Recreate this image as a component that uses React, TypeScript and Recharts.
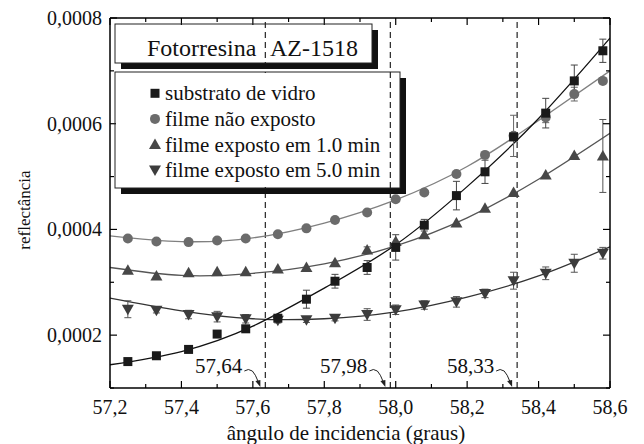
import { ComposedChart, Line, Scatter, XAxis, YAxis, ReferenceLine, ErrorBar } from 'recharts';

// measured angles (graus)
const angles = [57.25, 57.33, 57.42, 57.5, 57.58, 57.67, 57.75, 57.83, 57.92, 58.0, 58.08, 58.17, 58.25, 58.33, 58.42, 58.5, 58.58];

// reflectance per sample
const vidro = [0.000150, 0.000161, 0.000173, 0.000202, 0.000212, 0.000232, 0.000268, 0.000302, 0.000328, 0.000366, 0.000408, 0.000464, 0.000509, 0.000575, 0.000620, 0.000681, 0.000738];
const naoExposto = [0.000383, 0.000377, 0.000376, 0.000379, 0.000383, 0.000391, 0.000402, 0.000418, 0.000432, 0.000457, 0.000470, 0.000505, 0.000541, 0.000577, 0.000612, 0.000656, 0.000681];
const exposto1 = [0.000323, 0.000312, 0.000318, 0.000320, 0.000320, 0.000325, 0.000328, 0.000337, 0.000361, 0.000377, 0.000390, 0.000412, 0.000440, 0.000470, 0.000503, 0.000540, 0.000539];
const exposto5 = [0.000249, 0.000247, 0.000239, 0.000235, 0.000231, 0.000228, 0.000229, 0.000232, 0.000239, 0.000248, 0.000257, 0.000263, 0.000279, 0.000303, 0.000317, 0.000336, 0.000355];

// error bars (0 = none drawn)
const vidroErr = [0, 0, 0, 0, 0, 0, 0.000017, 0.000013, 0.000013, 0.000024, 0.000011, 0.000027, 0.000022, 0, 0.000028, 0.000030, 0.000022];
const naoErr = [0, 0, 0, 0, 0, 0, 0, 0, 0, 0, 0, 0, 0, 0.000039, 0.000010, 0.000013, 0];
const exp1Err = [0, 0, 0, 0, 0, 0, 0, 0, 0.000006, 0, 0, 0, 0, 0, 0, 0, 0.000069];
const exp5Err = [0.000016, 0.000005, 0.000008, 0.000010, 0.000008, 0.000005, 0.000005, 0.000005, 0.000011, 0.000009, 0.000008, 0.000010, 0.000008, 0.000016, 0.000012, 0.000017, 0.000011];

// fitted curves
const fitAngles = [57.2, 57.4, 57.6, 57.8, 58.0, 58.2, 58.4, 58.6];
const vidroFit = [0.000144, 0.000169, 0.000217, 0.000289, 0.000371, 0.000481, 0.000610, 0.000762];
const naoFit = [0.000388, 0.000377, 0.000384, 0.000412, 0.000456, 0.000519, 0.000606, 0.000700];
const exp1Fit = [0.000328, 0.000313, 0.000317, 0.000335, 0.000369, 0.000422, 0.000495, 0.000582];
const exp5Fit = [0.000270, 0.000246, 0.000231, 0.000231, 0.000244, 0.000272, 0.000312, 0.000367];

const xTicks = [57.2, 57.3, 57.4, 57.5, 57.6, 57.7, 57.8, 57.9, 58.0, 58.1, 58.2, 58.3, 58.4, 58.5, 58.6];
const yTicks = [0.0001, 0.0002, 0.0003, 0.0004, 0.0005, 0.0006, 0.0007, 0.0008];

const markAngles = [57.635, 57.985, 58.34];
const markLabels = ['57,64', '57,98', '58,33'];

const W = 644;
const H = 444;
// axes get 1px of room each, so the plot box is 110..610 x 18..388
const M = { top: 17, right: 33, bottom: 55, left: 109 };
const TOP = 18;
const BOTTOM = 388;
const LEFT = 110;
const RIGHT = 610;
const FONT = '"Liberation Serif", "Times New Roman", serif';

const points = (vals: number[], errs: number[]) => angles.map((x, i) => ({ x, y: vals[i], err: errs[i] }));
const fit = (vals: number[]) => fitAngles.map((x, i) => ({ x, y: vals[i] }));

const isMajorX = (v: number) => Math.round(v * 10) % 2 === 0;
const isMajorY = (v: number) => Math.round(v * 1e4) % 2 === 0;

const BottomTick = ({ x, payload }: any) => {
  const major = isMajorX(payload.value);
  return (
    <g>
      <line x1={x} x2={x} y1={BOTTOM} y2={BOTTOM - (major ? 7 : 4)} stroke="#000" strokeWidth={1.2} />
      {major && (
        <text x={x} y={BOTTOM + 26} textAnchor="middle" fontSize={20} fontFamily={FONT} fill="#111">
          {payload.value.toFixed(1).replace('.', ',')}
        </text>
      )}
    </g>
  );
};

const TopTick = ({ x, payload }: any) => (
  <line x1={x} x2={x} y1={TOP} y2={TOP + (isMajorX(payload.value) ? 7 : 4)} stroke="#000" strokeWidth={1.2} />
);

const LeftTick = ({ y, payload }: any) => {
  const major = isMajorY(payload.value);
  return (
    <g>
      <line x1={LEFT} x2={LEFT + (major ? 7 : 4)} y1={y} y2={y} stroke="#000" strokeWidth={1.2} />
      {major && (
        <text x={102} y={y + 7} textAnchor="end" fontSize={20} fontFamily={FONT} fill="#111">
          {payload.value.toFixed(4).replace('.', ',')}
        </text>
      )}
    </g>
  );
};

const RightTick = ({ y, payload }: any) => (
  <line x1={RIGHT} x2={RIGHT - (isMajorY(payload.value) ? 7 : 4)} y1={y} y2={y} stroke="#000" strokeWidth={1.2} />
);

const Square = ({ cx, cy }: any) => <rect x={cx - 4.5} y={cy - 4.5} width={9} height={9} fill="#1a1a1a" />;
const Dot = ({ cx, cy }: any) => <circle cx={cx} cy={cy} r={5} fill="#6b6b6b" />;
const TriUp = ({ cx, cy }: any) => (
  <polygon points={`${cx},${cy - 6} ${cx + 6},${cy + 4.5} ${cx - 6},${cy + 4.5}`} fill="#474747" />
);
const TriDown = ({ cx, cy }: any) => (
  <polygon points={`${cx},${cy + 6} ${cx + 6},${cy - 4.5} ${cx - 6},${cy - 4.5}`} fill="#3c3c3c" />
);

// value tag with a small curved arrow pointing at the foot of the dashed line
const MarkLabel = ({ viewBox, text }: any) => {
  const X = viewBox.x;
  const B = viewBox.y + viewBox.height;
  return (
    <g>
      <rect x={X - 76} y={B - 34} width={54} height={26} fill="#fff" />
      <text x={X - 23} y={B - 15} textAnchor="end" fontSize={21} fontFamily={FONT} fill="#111">
        {text}
      </text>
      <path d={`M ${X - 21} ${B - 17} q 4 -3 8 0 q 3 3 6 11`} fill="none" stroke="#222" strokeWidth={1} />
      <polygon points={`${X - 5},${B - 1} ${X - 10},${B - 7} ${X - 5},${B - 8}`} fill="#222" />
    </g>
  );
};

const legendRows = [
  { label: 'substrato de vidro', Icon: Square },
  { label: 'filme não exposto', Icon: Dot },
  { label: 'filme exposto em 1.0 min', Icon: TriUp },
  { label: 'filme exposto em 5.0 min', Icon: TriDown },
];

const axisLine = { stroke: '#000', strokeWidth: 1.5 };

export default function App() {
  return (
    <div style={{ position: 'fixed', left: 0, top: 0, width: W, height: H, background: '#fff' }}>
      <ComposedChart width={W} height={H} margin={M}>
        <XAxis
          xAxisId={0}
          dataKey="x"
          type="number"
          domain={[57.2, 58.6]}
          ticks={xTicks}
          allowDataOverflow
          height={1}
          tickSize={0}
          tickMargin={0}
          tickLine={false}
          axisLine={axisLine}
          tick={<BottomTick />}
          interval={0}
        />
        <XAxis
          xAxisId="top"
          orientation="top"
          dataKey="x"
          type="number"
          domain={[57.2, 58.6]}
          ticks={xTicks}
          allowDataOverflow
          height={1}
          tickSize={0}
          tickMargin={0}
          tickLine={false}
          axisLine={axisLine}
          tick={<TopTick />}
          interval={0}
        />
        <YAxis
          yAxisId={0}
          dataKey="y"
          type="number"
          domain={[0.0001, 0.0008]}
          ticks={yTicks}
          allowDataOverflow
          width={1}
          tickSize={0}
          tickMargin={0}
          tickLine={false}
          axisLine={axisLine}
          tick={<LeftTick />}
          interval={0}
        />
        <YAxis
          yAxisId="right"
          orientation="right"
          dataKey="y"
          type="number"
          domain={[0.0001, 0.0008]}
          ticks={yTicks}
          allowDataOverflow
          width={1}
          tickSize={0}
          tickMargin={0}
          tickLine={false}
          axisLine={axisLine}
          tick={<RightTick />}
          interval={0}
        />

        {markAngles.map((a, i) => (
          <ReferenceLine
            key={a}
            x={a}
            stroke="#333"
            strokeWidth={1.3}
            strokeDasharray="6 4"
            label={<MarkLabel text={markLabels[i]} />}
          />
        ))}

        <Line data={fit(naoFit)} dataKey="y" type="natural" stroke="#808080" strokeWidth={1.3} dot={false} isAnimationActive={false} />
        <Line data={fit(exp1Fit)} dataKey="y" type="natural" stroke="#555" strokeWidth={1.3} dot={false} isAnimationActive={false} />
        <Line data={fit(exp5Fit)} dataKey="y" type="natural" stroke="#333" strokeWidth={1.3} dot={false} isAnimationActive={false} />
        <Line data={fit(vidroFit)} dataKey="y" type="natural" stroke="#111" strokeWidth={1.3} dot={false} isAnimationActive={false} />

        <Scatter data={points(exposto5, exp5Err)} dataKey="y" shape={(p: any) => <TriDown {...p} />} isAnimationActive={false}>
          <ErrorBar dataKey="err" direction="y" width={3.5} stroke="#555" strokeWidth={1} />
        </Scatter>
        <Scatter data={points(exposto1, exp1Err)} dataKey="y" shape={(p: any) => <TriUp {...p} />} isAnimationActive={false}>
          <ErrorBar dataKey="err" direction="y" width={3.5} stroke="#555" strokeWidth={1} />
        </Scatter>
        <Scatter data={points(naoExposto, naoErr)} dataKey="y" shape={(p: any) => <Dot {...p} />} isAnimationActive={false}>
          <ErrorBar dataKey="err" direction="y" width={3.5} stroke="#666" strokeWidth={1} />
        </Scatter>
        <Scatter data={points(vidro, vidroErr)} dataKey="y" shape={(p: any) => <Square {...p} />} isAnimationActive={false}>
          <ErrorBar dataKey="err" direction="y" width={3.5} stroke="#444" strokeWidth={1} />
        </Scatter>
      </ComposedChart>

      <svg width={W} height={H} style={{ position: 'absolute', left: 0, top: 0, pointerEvents: 'none' }}>
        {/* title box */}
        <rect x={121} y={63} width={257} height={6} fill="#111" />
        <rect x={372} y={30} width={6} height={39} fill="#111" />
        <rect x={115} y={24} width={257} height={39} fill="none" stroke="#222" strokeWidth={1} />
        <text x={147} y={56} fontSize={24} fontFamily={FONT} fill="#111">Fotorresina</text>
        <text x={270} y={56} fontSize={24} fontFamily={FONT} fill="#111">AZ-1518</text>

        {/* legend box */}
        <rect x={116} y={73} width={272} height={114} fill="#fff" />
        <rect x={121} y={188} width={285} height={6} fill="#111" />
        <rect x={400} y={78} width={6} height={116} fill="#111" />
        <rect x={115} y={72} width={285} height={116} fill="none" stroke="#222" strokeWidth={1} />
        {legendRows.map((r, i) => {
          const cy = 93.3 + i * 25.6;
          const Icon = r.Icon;
          return (
            <g key={r.label}>
              <Icon cx={155} cy={cy} />
              <text x={165} y={cy + 7} fontSize={21} fontFamily={FONT} fill="#111">{r.label}</text>
            </g>
          );
        })}

        {/* axis titles */}
        <text x={346} y={440} textAnchor="middle" fontSize={21} fontFamily={FONT} fill="#111">
          ângulo de incidencia (graus)
        </text>
        <text transform="translate(30 210) rotate(-90)" textAnchor="middle" fontSize={17} fontFamily={FONT} fill="#111">
          reflectância
        </text>
      </svg>
    </div>
  );
}
